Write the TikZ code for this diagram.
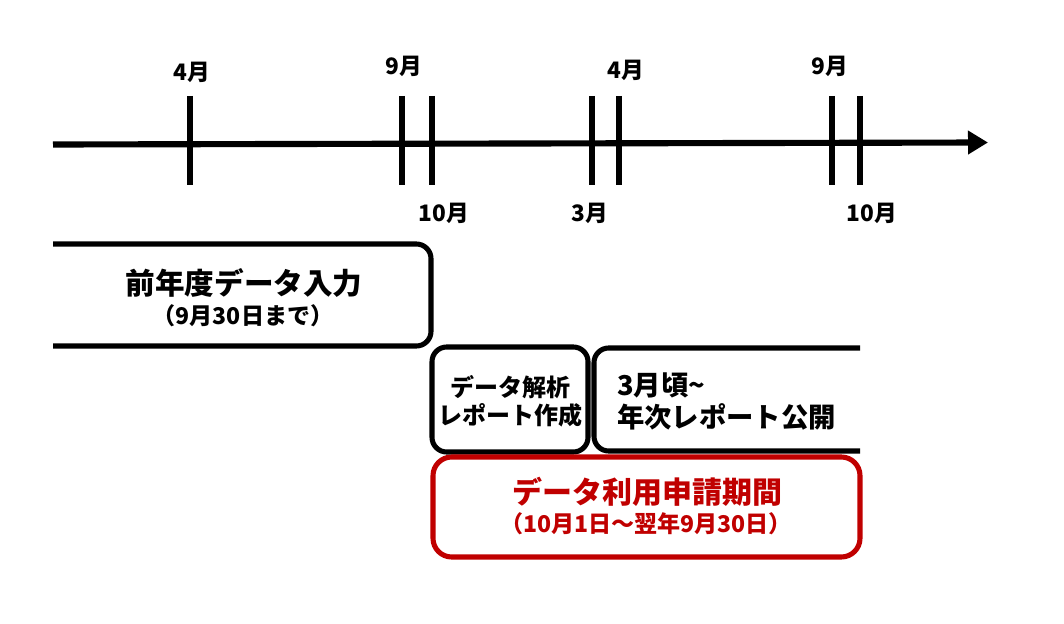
\documentclass[tikz,border=0pt]{standalone}
\usepackage{fontspec}
\setmainfont{Noto Sans CJK JP}
\usetikzlibrary{arrows.meta}
\definecolor{darkred}{HTML}{C00000}
\begin{document}
\begin{tikzpicture}[x=0.75pt,y=-0.75pt,
  tickline/.style={line width=4.6pt},
  axisline/.style={line width=4.6pt,-{Triangle[length=15pt,width=17pt]}},
  mlabel/.style={font=\bfseries\fontsize{17}{20}\selectfont,inner sep=0pt},
  boxline/.style={line width=3.8pt,rounded corners=11pt},
  redbox/.style={line width=3.8pt,rounded corners=14pt,draw=darkred},
  bigtext/.style={font=\bfseries\fontsize{22.2}{26}\selectfont,inner sep=0pt},
  yeartext/.style={font=\bfseries\fontsize{20.5}{24}\selectfont,inner sep=0pt},
  redtext/.style={font=\bfseries\fontsize{22.5}{26}\selectfont,inner sep=0pt,text=darkred},
  midtext/.style={font=\bfseries\fontsize{17.3}{20}\selectfont,inner sep=0pt},
  smalltext/.style={font=\bfseries\fontsize{18}{21}\selectfont,inner sep=0pt}]
\useasboundingbox (0,0) rectangle (1064,624);
% axis
\coordinate (axstart) at (53,144.5);
\coordinate (axend) at (988,142.5);
\draw[axisline] (axstart) -- (axend);
% ticks
\foreach \x in {190,402,432,592,619,832,860}{
  \draw[tickline] (\x,96) -- (\x,185);
}
% month labels
\node[mlabel] (m1) at (192,72) {4月};
\node[mlabel] (m2) at (404,66) {9月};
\node[mlabel] (m3) at (444,213) {10月};
\node[mlabel] (m4) at (590,213) {3月};
\node[mlabel] (m5) at (626,70) {4月};
\node[mlabel] (m6) at (830,66) {9月};
\node[mlabel] (m7) at (872,213) {10月};
% box 1
\draw[boxline] (53,244) -- (431,244) -- (431,346) -- (53,346);
\node[bigtext] (b1a) at (244,283) {前年度データ入力};
\node[midtext] (b1b) at (243,316) {（9月30日まで）};
% box 2
\draw[boxline] (432,347) rectangle (588,452);
\node[smalltext] (b2a) at (510,387) {データ解析};
\node[smalltext] (b2b) at (510,415) {レポート作成};
% box 3
\draw[boxline] (860,348) -- (594,348) -- (594,451) -- (860,451);
\node[yeartext,anchor=west] (b3a) at (617,385) {3月頃\textasciitilde};
\node[yeartext,anchor=west] (b3b) at (617,417) {年次レポート公開};
% red box
\draw[redbox] (433,457) rectangle (860,557);
\node[redtext] (r1) at (647,492) {データ利用申請期間};
\node[midtext,text=darkred] (r2) at (646,524) {（10月1日～翌年9月30日）};
\end{tikzpicture}
\end{document}
